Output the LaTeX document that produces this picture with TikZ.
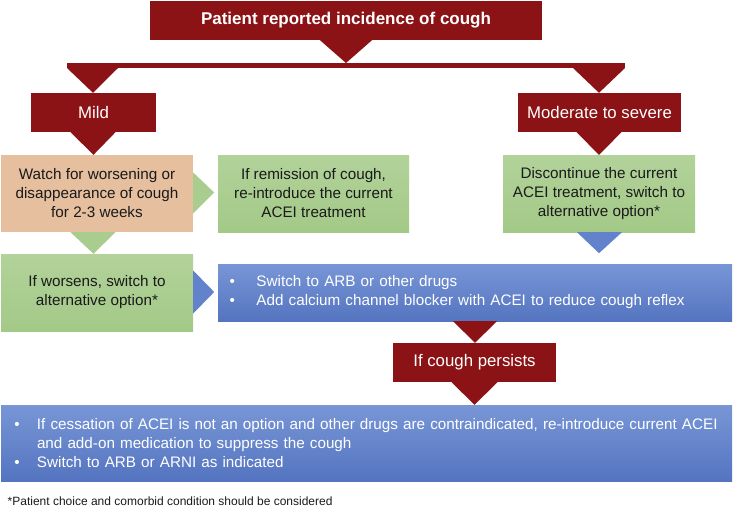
\documentclass[tikz,border=0pt]{standalone}
\usepackage{fontspec}
\setmainfont{Liberation Sans}
\usetikzlibrary{calc}
\definecolor{dred}{HTML}{8B1215}
\definecolor{peach}{HTML}{E6BF9F}
\definecolor{grT}{HTML}{B2D29A}
\definecolor{grB}{HTML}{A3C987}
\definecolor{grTri}{HTML}{A9CD8F}
\definecolor{blT}{HTML}{7896D6}
\definecolor{blB}{HTML}{5474C0}
\definecolor{blTri}{HTML}{6283CB}
\definecolor{ink}{HTML}{1A1A1A}
\tikzset{
  box/.style={inner sep=0pt, align=center, text=ink, font=\fontsize{15.25}{19}\selectfont},
  redbox/.style={box, fill=dred, text=white, font=\fontsize{16.8}{19}\selectfont},
  greenbox/.style={box, top color=grT, bottom color=grB},
  peachbox/.style={box, fill=peach},
  bluebox/.style={box, top color=blT, bottom color=blB, text=white, align=left},
  redtri/.style={fill=dred},
  greentri/.style={fill=grTri},
  bluetri/.style={fill=blTri},
}
\newcommand{\bul}[1]{\makebox[#1][l]{\textbullet}}
\begin{document}
\begin{tikzpicture}[x=1pt,y=-1pt]
\useasboundingbox (0,0) rectangle (733,507);

% boxes
\node[redbox, minimum width=392pt, minimum height=39pt, font=\bfseries\fontsize{17}{19}\selectfont] (top) at (346,20.5) {Patient reported incidence of cough};
\node[redbox, minimum width=125pt, minimum height=39pt] (mild) at (93.5,112.5) {Mild};
\node[redbox, minimum width=163pt, minimum height=39pt] (mod) at (599.5,112.5) {Moderate to severe};
\node[peachbox, minimum width=192pt, minimum height=77pt] (watch) at (97,193.5) {Watch for worsening or\\disappearance of cough\\for 2-3 weeks};
\node[greenbox, minimum width=191pt, minimum height=77pt] (remis) at (313.5,193.5) {If remission of cough,\\re-introduce the current\\ACEI treatment};
\node[greenbox, minimum width=192pt, minimum height=77pt] (disc) at (599,193.5) {Discontinue the current\\ACEI treatment, switch to\\alternative option*};
\node[greenbox, minimum width=192pt, minimum height=77pt] (worse) at (97,292.5) {If worsens, switch to\\alternative option*};
\node[bluebox, inner xsep=11.5pt, text width=491pt, minimum height=57pt] (sw) at (475,292.5) {\bul{27pt}Switch to ARB or other drugs\\\bul{27pt}Add calcium channel blocker with ACEI to reduce cough reflex};
\node[redbox, minimum width=163pt, minimum height=39pt] (persist) at (474.5,362.5) {If cough persists};
\node[bluebox, inner xsep=13.3pt, text width=704.4pt, minimum height=76pt] (final) at (366.5,443) {\mbox{\bul{22.7pt}If cessation of ACEI is not an option and other drugs are contraindicated, re-introduce current ACEI}\\\hspace*{22.7pt}and add-on medication to suppress the cough\\\bul{22.7pt}Switch to ARB or ARNI as indicated};
\node[inner sep=0pt, anchor=west, text=ink, font=\fontsize{12}{14}\selectfont] (foot) at (7.5,501.5) {*Patient choice and comorbid condition should be considered};

% branching bar
\coordinate (barL) at (67,63);
\coordinate (barR) at (625,68);
\fill[redtri] (barL) rectangle (barR);
\fill[redtri] ($(top.south)+(-26,0)$) -- ($(top.south)+(26,0)$) -- (top.south |- barL) -- cycle;
\fill[redtri] (barL |- barR) -- ($(barL |- barR)+(51,0)$) -- (mild.north -| 93,0) -- cycle;
\fill[redtri] (barR) -- ($(barR)+(-52,0)$) -- (mod.north -| 599,0) -- cycle;

% arrows
\fill[redtri] ($(mild.south)+(-23,0)$) -- ($(mild.south)+(22,0)$) -- (mild.south |- watch.north) -- cycle;
\fill[redtri] ($(mod.south)+(-23,0)$) -- ($(mod.south)+(22,0)$) -- (disc.north) -- cycle;
\fill[greentri] ($(watch.east)+(0,-21)$) -- ($(watch.east)+(0,20)$) -- ($(watch.east)+(21,-1)$) -- cycle;
\fill[greentri] ($(mild.south |- watch.south)+(-23,0)$) -- ($(mild.south |- watch.south)+(22,0)$) -- (mild.south |- worse.north) -- cycle;
\fill[bluetri] ($(disc.south)+(-22,0)$) -- ($(disc.south)+(23,0)$) -- ($(disc.south)+(0,21)$) -- cycle;
\fill[bluetri] ($(worse.east)+(0,-22)$) -- ($(worse.east)+(0,21)$) -- ($(worse.east)+(21,-0.5)$) -- cycle;
\fill[redtri] ($(sw.south)+(-22,0)$) -- ($(sw.south)+(22,0)$) -- (sw.south |- persist.north) -- cycle;
\fill[redtri] ($(persist.south)+(-23,0)$) -- ($(persist.south)+(23,0)$) -- (persist.south |- final.north) -- cycle;
\end{tikzpicture}
\end{document}
